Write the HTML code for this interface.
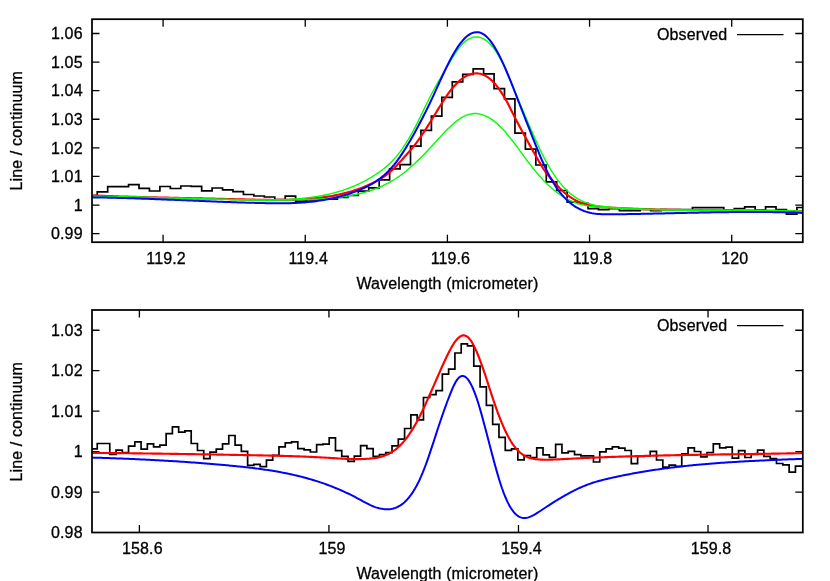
<!DOCTYPE html>
<html><head><meta charset="utf-8"><title>plot</title>
<style>
html,body{margin:0;padding:0;background:#fff;}
svg{display:block;will-change:transform;}
text{font-family:"Liberation Sans", sans-serif;font-size:16px;fill:#000;stroke:#000;stroke-width:0.3px;letter-spacing:0.13px;}
</style></head><body>
<svg width="830" height="581" viewBox="0 0 830 581">
<rect x="0" y="0" width="830" height="581" fill="#fff"/>

<path d="M163.08,242.2v-7.5M163.08,19.2v7.5" stroke="#000" stroke-width="1.3" fill="none"/>
<path d="M305.24,242.2v-7.5M305.24,19.2v7.5" stroke="#000" stroke-width="1.3" fill="none"/>
<path d="M447.40,242.2v-7.5M447.40,19.2v7.5" stroke="#000" stroke-width="1.3" fill="none"/>
<path d="M589.56,242.2v-7.5M589.56,19.2v7.5" stroke="#000" stroke-width="1.3" fill="none"/>
<path d="M731.72,242.2v-7.5M731.72,19.2v7.5" stroke="#000" stroke-width="1.3" fill="none"/>
<path d="M92,233.62h7.5M802.8,233.62h-7.5" stroke="#000" stroke-width="1.3" fill="none"/>
<path d="M92,205.03h7.5M802.8,205.03h-7.5" stroke="#000" stroke-width="1.3" fill="none"/>
<path d="M92,176.44h7.5M802.8,176.44h-7.5" stroke="#000" stroke-width="1.3" fill="none"/>
<path d="M92,147.85h7.5M802.8,147.85h-7.5" stroke="#000" stroke-width="1.3" fill="none"/>
<path d="M92,119.26h7.5M802.8,119.26h-7.5" stroke="#000" stroke-width="1.3" fill="none"/>
<path d="M92,90.67h7.5M802.8,90.67h-7.5" stroke="#000" stroke-width="1.3" fill="none"/>
<path d="M92,62.08h7.5M802.8,62.08h-7.5" stroke="#000" stroke-width="1.3" fill="none"/>
<path d="M92,33.49h7.5M802.8,33.49h-7.5" stroke="#000" stroke-width="1.3" fill="none"/>
<text x="166.08" y="263.70" text-anchor="middle">119.2</text>
<text x="308.24" y="263.70" text-anchor="middle">119.4</text>
<text x="450.40" y="263.70" text-anchor="middle">119.6</text>
<text x="592.56" y="263.70" text-anchor="middle">119.8</text>
<text x="734.72" y="263.70" text-anchor="middle">120</text>
<text  x="82.70" y="239.32" text-anchor="end">0.99</text>
<text  x="82.70" y="210.73" text-anchor="end">1</text>
<text  x="82.70" y="182.14" text-anchor="end">1.01</text>
<text  x="82.70" y="153.55" text-anchor="end">1.02</text>
<text  x="82.70" y="124.96" text-anchor="end">1.03</text>
<text  x="82.70" y="96.37" text-anchor="end">1.04</text>
<text  x="82.70" y="67.78" text-anchor="end">1.05</text>
<text  x="82.70" y="39.19" text-anchor="end">1.06</text>
<text x="447.40" y="288.5" text-anchor="middle">Wavelength (micrometer)</text>
<text transform="translate(22,130.8) rotate(-90)" text-anchor="middle">Line / continuum</text>
<text x="727.4" y="40.2" text-anchor="end">Observed</text>
<path d="M737,34.6H783.5" stroke="#000" stroke-width="1.3" fill="none"/>
<clipPath id="c19.2"><rect x="92" y="19.2" width="710.8" height="223.0"/></clipPath>
<g clip-path="url(#c19.2)">
<path d="M92,195.60H97.24V191.80H107.68V186.70H118.12V186.70H128.57V184.70H139.01V188.40H149.45V191.00H159.89V186.50H170.34V188.50H180.78V186.00H191.22V186.40H201.67V190.80H212.11V188.00H222.55V189.90H232.99V191.60H243.44V194.50H253.88V196.00H264.32V197.00H274.76V199.50H285.20V196.20H295.65V201.20H306.09V199.80H316.53V199.00H326.98V199.10H337.42V197.50H347.86V195.50H358.30V191.10H368.75V187.80H379.19V179.80H389.63V168.80H400.07V164.70H410.52V146.10H420.96V130.30H431.40V116.10H441.84V97.30H452.29V81.90H462.73V74.30H473.17V68.80H483.61V73.90H494.06V88.70H504.50V98.80H514.94V133.10H525.38V149.10H535.83V165.00H546.27V181.90H556.71V190.50H567.15V202.10H577.60V203.40H588.04V208.70H598.48V209.60H608.92V208.70H619.37V210.70H629.81V210.70H640.25V209.30H650.69V210.60H661.14V209.50H671.58V209.50H682.02V209.50H692.46V207.70H702.91V207.60H713.35V207.60H723.79V209.80H734.23V208.50H744.68V206.90H755.12V210.00H765.56V206.80H776.00V209.50H786.45V214.10H796.89V207.50H804.8" stroke="#000" stroke-width="1.7" fill="none" stroke-linejoin="miter"/>
<path d="M88.00,195.28 L90.00,195.37 L92.00,195.45 L94.00,195.53 L96.00,195.61 L98.00,195.69 L100.00,195.76 L102.00,195.84 L104.00,195.91 L106.00,195.98 L108.00,196.05 L110.00,196.12 L112.00,196.19 L114.00,196.26 L116.00,196.32 L118.00,196.39 L120.00,196.45 L122.00,196.51 L124.00,196.57 L126.00,196.63 L128.00,196.69 L130.00,196.75 L132.00,196.80 L134.00,196.86 L136.00,196.91 L138.00,196.97 L140.00,197.02 L142.00,197.07 L144.00,197.12 L146.00,197.17 L148.00,197.22 L150.00,197.27 L152.00,197.32 L154.00,197.37 L156.00,197.41 L158.00,197.46 L160.00,197.51 L162.00,197.55 L164.00,197.60 L166.00,197.64 L168.00,197.69 L170.00,197.73 L172.00,197.77 L174.00,197.82 L176.00,197.86 L178.00,197.90 L180.00,197.95 L182.00,197.99 L184.00,198.03 L186.00,198.07 L188.00,198.12 L190.00,198.16 L192.00,198.20 L194.00,198.25 L196.00,198.29 L198.00,198.33 L200.00,198.37 L202.00,198.42 L204.00,198.46 L206.00,198.51 L208.00,198.55 L210.00,198.60 L212.00,198.64 L214.00,198.69 L216.00,198.73 L218.00,198.78 L220.00,198.83 L222.00,198.87 L224.00,198.92 L226.00,198.97 L228.00,199.02 L230.00,199.07 L232.00,199.12 L234.00,199.17 L236.00,199.23 L238.00,199.28 L240.00,199.33 L242.00,199.39 L244.00,199.44 L246.00,199.49 L248.00,199.54 L250.00,199.59 L252.00,199.64 L254.00,199.69 L256.00,199.73 L258.00,199.77 L260.00,199.81 L262.00,199.84 L264.00,199.87 L266.00,199.90 L268.00,199.92 L270.00,199.93 L272.00,199.95 L274.00,199.95 L276.00,199.95 L278.00,199.94 L280.00,199.93 L282.00,199.91 L284.00,199.88 L286.00,199.84 L288.00,199.80 L290.00,199.75 L292.00,199.69 L294.00,199.62 L296.00,199.54 L298.00,199.45 L300.00,199.35 L302.00,199.24 L304.00,199.12 L306.00,198.99 L308.00,198.84 L310.00,198.69 L312.00,198.52 L314.00,198.34 L316.00,198.14 L318.00,197.93 L320.00,197.70 L322.00,197.45 L324.00,197.19 L326.00,196.91 L328.00,196.60 L330.00,196.28 L332.00,195.94 L334.00,195.57 L336.00,195.18 L338.00,194.77 L340.00,194.34 L342.00,193.88 L344.00,193.39 L346.00,192.87 L348.00,192.33 L350.00,191.76 L352.00,191.16 L354.00,190.53 L356.00,189.87 L358.00,189.18 L360.00,188.46 L362.00,187.70 L364.00,186.91 L366.00,186.08 L368.00,185.22 L370.00,184.32 L372.00,183.38 L374.00,182.40 L376.00,181.38 L378.00,180.31 L380.00,179.16 L382.00,177.93 L384.00,176.60 L386.00,175.17 L388.00,173.62 L390.00,171.94 L392.00,170.12 L394.00,168.19 L396.00,166.15 L398.00,164.04 L400.00,161.88 L402.00,159.69 L404.00,157.50 L406.00,155.28 L408.00,153.04 L410.00,150.74 L412.00,148.36 L414.00,145.90 L416.00,143.33 L418.00,140.64 L420.00,137.82 L422.00,134.90 L424.00,131.89 L426.00,128.80 L428.00,125.65 L430.00,122.45 L432.00,119.21 L434.00,115.95 L436.00,112.69 L438.00,109.43 L440.00,106.19 L442.00,102.99 L444.00,99.86 L446.00,96.83 L448.00,93.94 L450.00,91.22 L452.00,88.68 L454.00,86.32 L456.00,84.15 L458.00,82.16 L460.00,80.36 L462.00,78.76 L464.00,77.36 L466.00,76.16 L468.00,75.17 L470.00,74.39 L472.00,73.82 L474.00,73.47 L476.00,73.34 L478.00,73.44 L480.00,73.77 L482.00,74.33 L484.00,75.13 L486.00,76.17 L488.00,77.45 L490.00,78.98 L492.00,80.76 L494.00,82.79 L496.00,85.06 L498.00,87.58 L500.00,90.35 L502.00,93.36 L504.00,96.62 L506.00,100.11 L508.00,103.85 L510.00,107.82 L512.00,111.83 L514.00,115.76 L516.00,119.64 L518.00,123.46 L520.00,127.24 L522.00,130.99 L524.00,134.70 L526.00,138.37 L528.00,142.00 L530.00,145.61 L532.00,149.17 L534.00,152.71 L536.00,156.21 L538.00,159.68 L540.00,163.11 L542.00,166.52 L544.00,169.74 L546.00,172.62 L548.00,175.16 L550.00,177.46 L552.00,179.72 L554.00,181.97 L556.00,184.19 L558.00,186.34 L560.00,188.41 L562.00,190.37 L564.00,192.20 L566.00,193.89 L568.00,195.44 L570.00,196.87 L572.00,198.17 L574.00,199.35 L576.00,200.43 L578.00,201.40 L580.00,202.27 L582.00,203.05 L584.00,203.74 L586.00,204.35 L588.00,204.89 L590.00,205.36 L592.00,205.76 L594.00,206.11 L596.00,206.41 L598.00,206.67 L600.00,206.89 L602.00,207.07 L604.00,207.23 L606.00,207.37 L608.00,207.49 L610.00,207.61 L612.00,207.72 L614.00,207.83 L616.00,207.94 L618.00,208.04 L620.00,208.14 L622.00,208.24 L624.00,208.33 L626.00,208.42 L628.00,208.51 L630.00,208.59 L632.00,208.67 L634.00,208.75 L636.00,208.83 L638.00,208.90 L640.00,208.97 L642.00,209.04 L644.00,209.11 L646.00,209.17 L648.00,209.23 L650.00,209.29 L652.00,209.35 L654.00,209.40 L656.00,209.45 L658.00,209.50 L660.00,209.55 L662.00,209.60 L664.00,209.64 L666.00,209.68 L668.00,209.72 L670.00,209.76 L672.00,209.80 L674.00,209.84 L676.00,209.87 L678.00,209.90 L680.00,209.93 L682.00,209.96 L684.00,209.99 L686.00,210.02 L688.00,210.04 L690.00,210.07 L692.00,210.09 L694.00,210.11 L696.00,210.13 L698.00,210.15 L700.00,210.17 L702.00,210.19 L704.00,210.21 L706.00,210.22 L708.00,210.24 L710.00,210.26 L712.00,210.27 L714.00,210.29 L716.00,210.30 L718.00,210.31 L720.00,210.33 L722.00,210.34 L724.00,210.35 L726.00,210.37 L728.00,210.38 L730.00,210.39 L732.00,210.40 L734.00,210.42 L736.00,210.43 L738.00,210.44 L740.00,210.46 L742.00,210.47 L744.00,210.48 L746.00,210.50 L748.00,210.51 L750.00,210.53 L752.00,210.54 L754.00,210.56 L756.00,210.58 L758.00,210.60 L760.00,210.62 L762.00,210.64 L764.00,210.66 L766.00,210.68 L768.00,210.70 L770.00,210.73 L772.00,210.75 L774.00,210.78 L776.00,210.81 L778.00,210.83 L780.00,210.87 L782.00,210.90 L784.00,210.93 L786.00,210.97 L788.00,211.00 L790.00,211.04 L792.00,211.08 L794.00,211.12 L796.00,211.17 L798.00,211.21 L800.00,211.26 L802.00,211.31 L804.00,211.36 L806.00,211.41 L808.00,211.47" stroke="#ff0000" stroke-width="2.15" fill="none" stroke-linejoin="round" stroke-linecap="round"/>
<path d="M88.00,196.21 L90.00,196.26 L92.00,196.30 L94.00,196.35 L96.00,196.39 L98.00,196.44 L100.00,196.48 L102.00,196.52 L104.00,196.57 L106.00,196.61 L108.00,196.66 L110.00,196.70 L112.00,196.75 L114.00,196.79 L116.00,196.83 L118.00,196.88 L120.00,196.92 L122.00,196.97 L124.00,197.01 L126.00,197.06 L128.00,197.10 L130.00,197.14 L132.00,197.19 L134.00,197.23 L136.00,197.28 L138.00,197.32 L140.00,197.36 L142.00,197.41 L144.00,197.45 L146.00,197.50 L148.00,197.54 L150.00,197.58 L152.00,197.63 L154.00,197.67 L156.00,197.72 L158.00,197.76 L160.00,197.80 L162.00,197.85 L164.00,197.89 L166.00,197.94 L168.00,197.98 L170.00,198.03 L172.00,198.07 L174.00,198.12 L176.00,198.16 L178.00,198.20 L180.00,198.25 L182.00,198.29 L184.00,198.34 L186.00,198.38 L188.00,198.43 L190.00,198.47 L192.00,198.52 L194.00,198.56 L196.00,198.61 L198.00,198.65 L200.00,198.70 L202.00,198.74 L204.00,198.79 L206.00,198.84 L208.00,198.88 L210.00,198.93 L212.00,198.97 L214.00,199.02 L216.00,199.07 L218.00,199.11 L220.00,199.16 L222.00,199.20 L224.00,199.25 L226.00,199.30 L228.00,199.34 L230.00,199.39 L232.00,199.44 L234.00,199.49 L236.00,199.53 L238.00,199.58 L240.00,199.63 L242.00,199.67 L244.00,199.72 L246.00,199.76 L248.00,199.80 L250.00,199.84 L252.00,199.87 L254.00,199.90 L256.00,199.93 L258.00,199.95 L260.00,199.97 L262.00,199.98 L264.00,199.98 L266.00,199.98 L268.00,199.97 L270.00,199.96 L272.00,199.94 L274.00,199.91 L276.00,199.87 L278.00,199.82 L280.00,199.76 L282.00,199.70 L284.00,199.62 L286.00,199.53 L288.00,199.44 L290.00,199.33 L292.00,199.20 L294.00,199.07 L296.00,198.92 L298.00,198.76 L300.00,198.59 L302.00,198.40 L304.00,198.20 L306.00,197.98 L308.00,197.74 L310.00,197.49 L312.00,197.23 L314.00,196.94 L316.00,196.64 L318.00,196.32 L320.00,195.97 L322.00,195.60 L324.00,195.22 L326.00,194.80 L328.00,194.37 L330.00,193.91 L332.00,193.42 L334.00,192.90 L336.00,192.36 L338.00,191.79 L340.00,191.19 L342.00,190.56 L344.00,189.90 L346.00,189.20 L348.00,188.47 L350.00,187.71 L352.00,186.91 L354.00,186.08 L356.00,185.21 L358.00,184.30 L360.00,183.35 L362.00,182.37 L364.00,181.34 L366.00,180.27 L368.00,179.16 L370.00,178.01 L372.00,176.81 L374.00,175.57 L376.00,174.28 L378.00,172.95 L380.00,171.54 L382.00,170.07 L384.00,168.51 L386.00,166.86 L388.00,165.11 L390.00,163.24 L392.00,161.24 L394.00,159.11 L396.00,156.84 L398.00,154.41 L400.00,151.83 L402.00,149.11 L404.00,146.22 L406.00,143.19 L408.00,139.99 L410.00,136.64 L412.00,133.13 L414.00,129.45 L416.00,125.62 L418.00,121.62 L420.00,117.50 L422.00,113.33 L424.00,109.14 L426.00,104.99 L428.00,100.94 L430.00,97.01 L432.00,93.19 L434.00,89.46 L436.00,85.82 L438.00,82.26 L440.00,78.75 L442.00,75.30 L444.00,71.88 L446.00,68.50 L448.00,65.13 L450.00,61.78 L452.00,58.50 L454.00,55.32 L456.00,52.29 L458.00,49.46 L460.00,46.86 L462.00,44.54 L464.00,42.53 L466.00,40.83 L468.00,39.43 L470.00,38.34 L472.00,37.55 L474.00,37.06 L476.00,36.87 L478.00,36.98 L480.00,37.39 L482.00,38.10 L484.00,39.11 L486.00,40.42 L488.00,42.03 L490.00,43.95 L492.00,46.16 L494.00,48.69 L496.00,51.51 L498.00,54.65 L500.00,58.09 L502.00,61.83 L504.00,65.88 L506.00,70.20 L508.00,74.74 L510.00,79.45 L512.00,84.26 L514.00,89.14 L516.00,94.02 L518.00,98.86 L520.00,103.65 L522.00,108.39 L524.00,113.10 L526.00,117.79 L528.00,122.47 L530.00,127.14 L532.00,131.77 L534.00,136.36 L536.00,140.86 L538.00,145.26 L540.00,149.52 L542.00,153.62 L544.00,157.56 L546.00,161.32 L548.00,164.91 L550.00,168.33 L552.00,171.58 L554.00,174.66 L556.00,177.57 L558.00,180.31 L560.00,182.87 L562.00,185.27 L564.00,187.50 L566.00,189.56 L568.00,191.47 L570.00,193.22 L572.00,194.83 L574.00,196.30 L576.00,197.64 L578.00,198.85 L580.00,199.95 L582.00,200.94 L584.00,201.82 L586.00,202.61 L588.00,203.31 L590.00,203.93 L592.00,204.48 L594.00,204.95 L596.00,205.37 L598.00,205.73 L600.00,206.04 L602.00,206.31 L604.00,206.56 L606.00,206.77 L608.00,206.97 L610.00,207.15 L612.00,207.33 L614.00,207.50 L616.00,207.66 L618.00,207.82 L620.00,207.97 L622.00,208.12 L624.00,208.26 L626.00,208.39 L628.00,208.52 L630.00,208.64 L632.00,208.76 L634.00,208.87 L636.00,208.98 L638.00,209.08 L640.00,209.18 L642.00,209.27 L644.00,209.36 L646.00,209.44 L648.00,209.52 L650.00,209.59 L652.00,209.66 L654.00,209.72 L656.00,209.79 L658.00,209.84 L660.00,209.90 L662.00,209.95 L664.00,209.99 L666.00,210.03 L668.00,210.07 L670.00,210.11 L672.00,210.14 L674.00,210.17 L676.00,210.20 L678.00,210.22 L680.00,210.25 L682.00,210.27 L684.00,210.28 L686.00,210.30 L688.00,210.31 L690.00,210.32 L692.00,210.33 L694.00,210.34 L696.00,210.34 L698.00,210.35 L700.00,210.35 L702.00,210.35 L704.00,210.35 L706.00,210.35 L708.00,210.35 L710.00,210.34 L712.00,210.34 L714.00,210.34 L716.00,210.33 L718.00,210.33 L720.00,210.32 L722.00,210.32 L724.00,210.31 L726.00,210.31 L728.00,210.30 L730.00,210.30 L732.00,210.29 L734.00,210.29 L736.00,210.29 L738.00,210.29 L740.00,210.28 L742.00,210.29 L744.00,210.29 L746.00,210.29 L748.00,210.29 L750.00,210.30 L752.00,210.31 L754.00,210.32 L756.00,210.33 L758.00,210.34 L760.00,210.36 L762.00,210.38 L764.00,210.40 L766.00,210.42 L768.00,210.44 L770.00,210.47 L772.00,210.50 L774.00,210.54 L776.00,210.57 L778.00,210.61 L780.00,210.66 L782.00,210.71 L784.00,210.76 L786.00,210.81 L788.00,210.87 L790.00,210.93 L792.00,211.00 L794.00,211.07 L796.00,211.14 L798.00,211.22 L800.00,211.31 L802.00,211.40 L804.00,211.49 L806.00,211.58 L808.00,211.68" stroke="#00ff00" stroke-width="1.4" fill="none" stroke-linejoin="round" stroke-linecap="round"/>
<path d="M88.00,196.39 L90.00,196.39 L92.00,196.39 L94.00,196.39 L96.00,196.40 L98.00,196.40 L100.00,196.41 L102.00,196.42 L104.00,196.44 L106.00,196.46 L108.00,196.48 L110.00,196.50 L112.00,196.52 L114.00,196.55 L116.00,196.58 L118.00,196.61 L120.00,196.64 L122.00,196.68 L124.00,196.71 L126.00,196.75 L128.00,196.79 L130.00,196.83 L132.00,196.88 L134.00,196.92 L136.00,196.97 L138.00,197.02 L140.00,197.06 L142.00,197.12 L144.00,197.17 L146.00,197.22 L148.00,197.27 L150.00,197.33 L152.00,197.38 L154.00,197.44 L156.00,197.50 L158.00,197.56 L160.00,197.62 L162.00,197.68 L164.00,197.74 L166.00,197.80 L168.00,197.86 L170.00,197.92 L172.00,197.98 L174.00,198.05 L176.00,198.11 L178.00,198.17 L180.00,198.23 L182.00,198.30 L184.00,198.36 L186.00,198.42 L188.00,198.48 L190.00,198.55 L192.00,198.61 L194.00,198.67 L196.00,198.73 L198.00,198.79 L200.00,198.85 L202.00,198.91 L204.00,198.97 L206.00,199.03 L208.00,199.09 L210.00,199.14 L212.00,199.20 L214.00,199.25 L216.00,199.31 L218.00,199.36 L220.00,199.41 L222.00,199.46 L224.00,199.51 L226.00,199.55 L228.00,199.60 L230.00,199.64 L232.00,199.69 L234.00,199.73 L236.00,199.77 L238.00,199.80 L240.00,199.84 L242.00,199.87 L244.00,199.90 L246.00,199.93 L248.00,199.96 L250.00,199.99 L252.00,200.01 L254.00,200.03 L256.00,200.05 L258.00,200.07 L260.00,200.08 L262.00,200.09 L264.00,200.10 L266.00,200.10 L268.00,200.11 L270.00,200.11 L272.00,200.11 L274.00,200.10 L276.00,200.09 L278.00,200.08 L280.00,200.07 L282.00,200.05 L284.00,200.03 L286.00,200.00 L288.00,199.98 L290.00,199.94 L292.00,199.91 L294.00,199.87 L296.00,199.83 L298.00,199.78 L300.00,199.74 L302.00,199.68 L304.00,199.63 L306.00,199.56 L308.00,199.50 L310.00,199.43 L312.00,199.36 L314.00,199.27 L316.00,199.18 L318.00,199.09 L320.00,198.98 L322.00,198.86 L324.00,198.74 L326.00,198.60 L328.00,198.44 L330.00,198.28 L332.00,198.10 L334.00,197.90 L336.00,197.69 L338.00,197.46 L340.00,197.21 L342.00,196.94 L344.00,196.65 L346.00,196.34 L348.00,196.01 L350.00,195.66 L352.00,195.28 L354.00,194.88 L356.00,194.45 L358.00,194.00 L360.00,193.52 L362.00,193.01 L364.00,192.47 L366.00,191.90 L368.00,191.30 L370.00,190.67 L372.00,190.00 L374.00,189.30 L376.00,188.57 L378.00,187.80 L380.00,186.98 L382.00,186.12 L384.00,185.20 L386.00,184.23 L388.00,183.21 L390.00,182.12 L392.00,180.97 L394.00,179.75 L396.00,178.47 L398.00,177.11 L400.00,175.70 L402.00,174.22 L404.00,172.68 L406.00,171.08 L408.00,169.43 L410.00,167.72 L412.00,165.96 L414.00,164.15 L416.00,162.29 L418.00,160.38 L420.00,158.43 L422.00,156.44 L424.00,154.41 L426.00,152.34 L428.00,150.24 L430.00,148.10 L432.00,145.93 L434.00,143.74 L436.00,141.54 L438.00,139.34 L440.00,137.16 L442.00,135.01 L444.00,132.89 L446.00,130.82 L448.00,128.81 L450.00,126.88 L452.00,125.03 L454.00,123.27 L456.00,121.63 L458.00,120.10 L460.00,118.71 L462.00,117.46 L464.00,116.36 L466.00,115.43 L468.00,114.68 L470.00,114.12 L472.00,113.74 L474.00,113.56 L476.00,113.56 L478.00,113.73 L480.00,114.09 L482.00,114.61 L484.00,115.30 L486.00,116.15 L488.00,117.17 L490.00,118.34 L492.00,119.66 L494.00,121.12 L496.00,122.73 L498.00,124.49 L500.00,126.37 L502.00,128.39 L504.00,130.54 L506.00,132.81 L508.00,135.18 L510.00,137.65 L512.00,140.20 L514.00,142.82 L516.00,145.49 L518.00,148.19 L520.00,150.91 L522.00,153.65 L524.00,156.37 L526.00,159.07 L528.00,161.75 L530.00,164.38 L532.00,166.96 L534.00,169.48 L536.00,171.93 L538.00,174.30 L540.00,176.58 L542.00,178.78 L544.00,180.89 L546.00,182.90 L548.00,184.83 L550.00,186.67 L552.00,188.43 L554.00,190.09 L556.00,191.67 L558.00,193.17 L560.00,194.57 L562.00,195.89 L564.00,197.13 L566.00,198.28 L568.00,199.35 L570.00,200.33 L572.00,201.23 L574.00,202.05 L576.00,202.79 L578.00,203.46 L580.00,204.07 L582.00,204.61 L584.00,205.09 L586.00,205.52 L588.00,205.90 L590.00,206.23 L592.00,206.51 L594.00,206.76 L596.00,206.98 L598.00,207.16 L600.00,207.32 L602.00,207.46 L604.00,207.58 L606.00,207.68 L608.00,207.78 L610.00,207.87 L612.00,207.96 L614.00,208.04 L616.00,208.13 L618.00,208.21 L620.00,208.29 L622.00,208.37 L624.00,208.44 L626.00,208.51 L628.00,208.58 L630.00,208.65 L632.00,208.72 L634.00,208.78 L636.00,208.85 L638.00,208.91 L640.00,208.97 L642.00,209.02 L644.00,209.08 L646.00,209.13 L648.00,209.19 L650.00,209.24 L652.00,209.29 L654.00,209.33 L656.00,209.38 L658.00,209.42 L660.00,209.47 L662.00,209.51 L664.00,209.55 L666.00,209.59 L668.00,209.63 L670.00,209.66 L672.00,209.70 L674.00,209.73 L676.00,209.77 L678.00,209.80 L680.00,209.83 L682.00,209.86 L684.00,209.89 L686.00,209.92 L688.00,209.95 L690.00,209.97 L692.00,210.00 L694.00,210.02 L696.00,210.05 L698.00,210.07 L700.00,210.10 L702.00,210.12 L704.00,210.14 L706.00,210.16 L708.00,210.18 L710.00,210.20 L712.00,210.22 L714.00,210.24 L716.00,210.26 L718.00,210.28 L720.00,210.30 L722.00,210.32 L724.00,210.33 L726.00,210.35 L728.00,210.37 L730.00,210.39 L732.00,210.41 L734.00,210.42 L736.00,210.44 L738.00,210.46 L740.00,210.48 L742.00,210.49 L744.00,210.51 L746.00,210.53 L748.00,210.55 L750.00,210.57 L752.00,210.59 L754.00,210.61 L756.00,210.63 L758.00,210.65 L760.00,210.67 L762.00,210.69 L764.00,210.72 L766.00,210.74 L768.00,210.76 L770.00,210.79 L772.00,210.81 L774.00,210.84 L776.00,210.86 L778.00,210.89 L780.00,210.92 L782.00,210.95 L784.00,210.98 L786.00,211.01 L788.00,211.04 L790.00,211.08 L792.00,211.11 L794.00,211.15 L796.00,211.18 L798.00,211.22 L800.00,211.26 L802.00,211.30 L804.00,211.34 L806.00,211.38 L808.00,211.43" stroke="#00ff00" stroke-width="1.4" fill="none" stroke-linejoin="round" stroke-linecap="round"/>
<path d="M88.00,197.30 L90.00,197.33 L92.00,197.36 L94.00,197.38 L96.00,197.41 L98.00,197.44 L100.00,197.48 L102.00,197.51 L104.00,197.55 L106.00,197.59 L108.00,197.63 L110.00,197.68 L112.00,197.73 L114.00,197.77 L116.00,197.82 L118.00,197.88 L120.00,197.93 L122.00,197.99 L124.00,198.04 L126.00,198.10 L128.00,198.16 L130.00,198.23 L132.00,198.29 L134.00,198.35 L136.00,198.42 L138.00,198.49 L140.00,198.56 L142.00,198.63 L144.00,198.70 L146.00,198.77 L148.00,198.85 L150.00,198.92 L152.00,199.00 L154.00,199.07 L156.00,199.15 L158.00,199.23 L160.00,199.31 L162.00,199.38 L164.00,199.46 L166.00,199.55 L168.00,199.63 L170.00,199.71 L172.00,199.79 L174.00,199.87 L176.00,199.95 L178.00,200.04 L180.00,200.12 L182.00,200.20 L184.00,200.29 L186.00,200.37 L188.00,200.45 L190.00,200.54 L192.00,200.62 L194.00,200.70 L196.00,200.79 L198.00,200.87 L200.00,200.95 L202.00,201.03 L204.00,201.11 L206.00,201.19 L208.00,201.27 L210.00,201.35 L212.00,201.43 L214.00,201.51 L216.00,201.59 L218.00,201.67 L220.00,201.74 L222.00,201.82 L224.00,201.89 L226.00,201.96 L228.00,202.04 L230.00,202.11 L232.00,202.18 L234.00,202.24 L236.00,202.31 L238.00,202.38 L240.00,202.44 L242.00,202.50 L244.00,202.57 L246.00,202.63 L248.00,202.68 L250.00,202.74 L252.00,202.80 L254.00,202.85 L256.00,202.90 L258.00,202.95 L260.00,203.00 L262.00,203.04 L264.00,203.09 L266.00,203.13 L268.00,203.16 L270.00,203.19 L272.00,203.22 L274.00,203.24 L276.00,203.26 L278.00,203.27 L280.00,203.27 L282.00,203.26 L284.00,203.24 L286.00,203.21 L288.00,203.18 L290.00,203.13 L292.00,203.07 L294.00,202.99 L296.00,202.91 L298.00,202.80 L300.00,202.69 L302.00,202.56 L304.00,202.41 L306.00,202.25 L308.00,202.06 L310.00,201.86 L312.00,201.65 L314.00,201.41 L316.00,201.15 L318.00,200.88 L320.00,200.58 L322.00,200.27 L324.00,199.93 L326.00,199.57 L328.00,199.19 L330.00,198.79 L332.00,198.37 L334.00,197.92 L336.00,197.45 L338.00,196.96 L340.00,196.44 L342.00,195.90 L344.00,195.34 L346.00,194.75 L348.00,194.13 L350.00,193.49 L352.00,192.82 L354.00,192.12 L356.00,191.38 L358.00,190.61 L360.00,189.80 L362.00,188.93 L364.00,188.02 L366.00,187.06 L368.00,186.04 L370.00,184.95 L372.00,183.81 L374.00,182.59 L376.00,181.29 L378.00,179.91 L380.00,178.44 L382.00,176.87 L384.00,175.19 L386.00,173.38 L388.00,171.46 L390.00,169.40 L392.00,167.19 L394.00,164.83 L396.00,162.32 L398.00,159.65 L400.00,156.84 L402.00,153.89 L404.00,150.82 L406.00,147.63 L408.00,144.33 L410.00,140.94 L412.00,137.45 L414.00,133.89 L416.00,130.26 L418.00,126.56 L420.00,122.80 L422.00,118.97 L424.00,115.07 L426.00,111.08 L428.00,107.02 L430.00,102.86 L432.00,98.62 L434.00,94.31 L436.00,89.93 L438.00,85.53 L440.00,81.13 L442.00,76.76 L444.00,72.47 L446.00,68.27 L448.00,64.20 L450.00,60.29 L452.00,56.57 L454.00,53.04 L456.00,49.72 L458.00,46.65 L460.00,43.83 L462.00,41.29 L464.00,39.03 L466.00,37.08 L468.00,35.43 L470.00,34.10 L472.00,33.11 L474.00,32.45 L476.00,32.14 L478.00,32.19 L480.00,32.60 L482.00,33.40 L484.00,34.58 L486.00,36.15 L488.00,38.12 L490.00,40.45 L492.00,43.13 L494.00,46.14 L496.00,49.46 L498.00,53.07 L500.00,56.95 L502.00,61.08 L504.00,65.45 L506.00,70.02 L508.00,74.76 L510.00,79.66 L512.00,84.66 L514.00,89.75 L516.00,94.90 L518.00,100.07 L520.00,105.24 L522.00,110.38 L524.00,115.50 L526.00,120.59 L528.00,125.66 L530.00,130.72 L532.00,135.76 L534.00,140.80 L536.00,145.81 L538.00,150.74 L540.00,155.58 L542.00,160.27 L544.00,164.78 L546.00,169.08 L548.00,173.14 L550.00,176.95 L552.00,180.50 L554.00,183.81 L556.00,186.88 L558.00,189.74 L560.00,192.38 L562.00,194.82 L564.00,197.07 L566.00,199.14 L568.00,201.04 L570.00,202.78 L572.00,204.36 L574.00,205.79 L576.00,207.08 L578.00,208.23 L580.00,209.26 L582.00,210.16 L584.00,210.95 L586.00,211.64 L588.00,212.23 L590.00,212.73 L592.00,213.14 L594.00,213.48 L596.00,213.75 L598.00,213.96 L600.00,214.11 L602.00,214.22 L604.00,214.29 L606.00,214.32 L608.00,214.33 L610.00,214.33 L612.00,214.31 L614.00,214.29 L616.00,214.27 L618.00,214.25 L620.00,214.22 L622.00,214.20 L624.00,214.17 L626.00,214.14 L628.00,214.11 L630.00,214.08 L632.00,214.05 L634.00,214.01 L636.00,213.98 L638.00,213.94 L640.00,213.90 L642.00,213.87 L644.00,213.83 L646.00,213.79 L648.00,213.75 L650.00,213.70 L652.00,213.66 L654.00,213.62 L656.00,213.58 L658.00,213.53 L660.00,213.49 L662.00,213.44 L664.00,213.40 L666.00,213.35 L668.00,213.31 L670.00,213.26 L672.00,213.21 L674.00,213.17 L676.00,213.12 L678.00,213.08 L680.00,213.03 L682.00,212.99 L684.00,212.94 L686.00,212.90 L688.00,212.85 L690.00,212.81 L692.00,212.76 L694.00,212.72 L696.00,212.68 L698.00,212.64 L700.00,212.60 L702.00,212.56 L704.00,212.52 L706.00,212.48 L708.00,212.44 L710.00,212.41 L712.00,212.37 L714.00,212.34 L716.00,212.30 L718.00,212.27 L720.00,212.24 L722.00,212.21 L724.00,212.19 L726.00,212.16 L728.00,212.14 L730.00,212.11 L732.00,212.09 L734.00,212.07 L736.00,212.06 L738.00,212.04 L740.00,212.03 L742.00,212.01 L744.00,212.00 L746.00,212.00 L748.00,211.99 L750.00,211.99 L752.00,211.99 L754.00,211.99 L756.00,211.99 L758.00,212.00 L760.00,212.01 L762.00,212.02 L764.00,212.03 L766.00,212.05 L768.00,212.07 L770.00,212.09 L772.00,212.12 L774.00,212.15 L776.00,212.18 L778.00,212.21 L780.00,212.25 L782.00,212.29 L784.00,212.33 L786.00,212.38 L788.00,212.43 L790.00,212.48 L792.00,212.54 L794.00,212.60 L796.00,212.67 L798.00,212.73 L800.00,212.81 L802.00,212.88 L804.00,212.96 L806.00,213.04 L808.00,213.12" stroke="#0000ff" stroke-width="2.0" fill="none" stroke-linejoin="round" stroke-linecap="round"/>
</g>
<rect x="92" y="19.2" width="710.8" height="223.0" fill="none" stroke="#000" stroke-width="1.75"/>
<path d="M139.39,532.5v-7.5M139.39,310v7.5" stroke="#000" stroke-width="1.3" fill="none"/>
<path d="M328.93,532.5v-7.5M328.93,310v7.5" stroke="#000" stroke-width="1.3" fill="none"/>
<path d="M518.48,532.5v-7.5M518.48,310v7.5" stroke="#000" stroke-width="1.3" fill="none"/>
<path d="M708.03,532.5v-7.5M708.03,310v7.5" stroke="#000" stroke-width="1.3" fill="none"/>
<path d="M92,492.05h7.5M802.8,492.05h-7.5" stroke="#000" stroke-width="1.3" fill="none"/>
<path d="M92,451.59h7.5M802.8,451.59h-7.5" stroke="#000" stroke-width="1.3" fill="none"/>
<path d="M92,411.14h7.5M802.8,411.14h-7.5" stroke="#000" stroke-width="1.3" fill="none"/>
<path d="M92,370.68h7.5M802.8,370.68h-7.5" stroke="#000" stroke-width="1.3" fill="none"/>
<path d="M92,330.23h7.5M802.8,330.23h-7.5" stroke="#000" stroke-width="1.3" fill="none"/>
<text x="142.39" y="554.00" text-anchor="middle">158.6</text>
<text x="331.93" y="554.00" text-anchor="middle">159</text>
<text x="521.48" y="554.00" text-anchor="middle">159.4</text>
<text x="711.03" y="554.00" text-anchor="middle">159.8</text>
<text  x="82.70" y="538.20" text-anchor="end">0.98</text>
<text  x="82.70" y="497.75" text-anchor="end">0.99</text>
<text  x="82.70" y="457.29" text-anchor="end">1</text>
<text  x="82.70" y="416.84" text-anchor="end">1.01</text>
<text  x="82.70" y="376.38" text-anchor="end">1.02</text>
<text  x="82.70" y="335.93" text-anchor="end">1.03</text>
<text x="447.40" y="579" text-anchor="middle">Wavelength (micrometer)</text>
<text transform="translate(22,421.8) rotate(-90)" text-anchor="middle">Line / continuum</text>
<text x="727.4" y="331.2" text-anchor="end">Observed</text>
<path d="M737,325.6H783.5" stroke="#000" stroke-width="1.3" fill="none"/>
<clipPath id="c310"><rect x="92" y="310" width="710.8" height="222.5"/></clipPath>
<g clip-path="url(#c310)">
<path d="M92,448.80H97.25V443.50H103.51V443.50H109.77V454.40H116.03V450.10H122.29V452.50H128.55V446.10H134.81V441.90H141.07V449.20H147.34V443.90H153.60V446.80H159.86V445.20H166.13V433.60H172.39V426.90H178.66V432.20H184.92V430.90H191.19V443.50H197.46V450.50H203.73V458.70H209.99V452.10H216.26V449.20H222.53V443.90H228.80V435.50H235.07V445.20H241.34V451.40H247.62V465.40H253.89V464.40H260.16V466.70H266.44V460.10H272.71V455.40H278.98V446.80H285.26V442.80H291.54V441.90H297.81V448.70H304.09V449.80H310.37V452.00H316.64V444.70H322.92V444.10H329.20V437.90H335.48V450.70H341.76V456.40H348.04V461.30H354.32V456.20H360.61V445.70H366.89V448.60H373.17V456.40H379.46V454.70H385.74V452.70H392.03V445.80H398.31V439.10H404.60V428.50H410.88V414.90H417.17V419.90H423.46V397.50H429.75V394.70H436.04V390.60H442.33V374.10H448.62V369.20H454.91V353.00H461.20V343.80H467.49V345.80H473.78V366.20H480.08V386.90H486.37V405.40H492.66V424.30H498.96V437.40H505.25V450.40H511.55V448.90H517.85V459.80H524.14V455.50H530.44V457.50H536.74V447.80H543.04V454.90H549.34V457.40H555.64V444.30H561.94V452.90H568.24V451.40H574.54V454.70H580.84V455.80H587.14V455.80H593.45V462.00H599.75V451.80H606.06V448.90H612.36V446.90H618.67V448.10H624.97V450.50H631.28V463.70H637.59V456.40H643.89V455.80H650.20V451.40H656.51V460.00H662.82V467.10H669.13V465.10H675.44V466.40H681.75V453.80H688.07V447.80H694.38V451.50H700.69V456.80H707.00V452.50H713.32V443.90H719.63V447.80H725.95V447.20H732.26V458.20H738.58V450.70H744.90V457.50H751.22V454.50H757.53V450.20H763.85V456.40H770.17V458.70H776.49V463.50H782.81V464.80H789.13V472.10H795.45V466.10H801.78V466.10H804.8" stroke="#000" stroke-width="1.7" fill="none" stroke-linejoin="miter"/>
<path d="M88.00,452.88 L89.50,452.90 L91.00,452.91 L92.50,452.92 L94.00,452.93 L95.50,452.94 L97.00,452.96 L98.50,452.97 L100.00,452.98 L101.50,452.99 L103.00,453.01 L104.50,453.02 L106.00,453.03 L107.50,453.05 L109.00,453.06 L110.50,453.08 L112.00,453.09 L113.50,453.11 L115.00,453.12 L116.50,453.14 L118.00,453.15 L119.50,453.17 L121.00,453.18 L122.50,453.20 L124.00,453.22 L125.50,453.23 L127.00,453.25 L128.50,453.27 L130.00,453.28 L131.50,453.30 L133.00,453.32 L134.50,453.34 L136.00,453.36 L137.50,453.37 L139.00,453.39 L140.50,453.41 L142.00,453.43 L143.50,453.45 L145.00,453.47 L146.50,453.49 L148.00,453.51 L149.50,453.53 L151.00,453.55 L152.50,453.57 L154.00,453.59 L155.50,453.61 L157.00,453.63 L158.50,453.65 L160.00,453.67 L161.50,453.69 L163.00,453.71 L164.50,453.73 L166.00,453.75 L167.50,453.78 L169.00,453.80 L170.50,453.82 L172.00,453.84 L173.50,453.86 L175.00,453.89 L176.50,453.91 L178.00,453.93 L179.50,453.96 L181.00,453.98 L182.50,454.00 L184.00,454.03 L185.50,454.05 L187.00,454.07 L188.50,454.10 L190.00,454.12 L191.50,454.14 L193.00,454.17 L194.50,454.19 L196.00,454.22 L197.50,454.24 L199.00,454.27 L200.50,454.29 L202.00,454.32 L203.50,454.34 L205.00,454.37 L206.50,454.39 L208.00,454.42 L209.50,454.45 L211.00,454.47 L212.50,454.50 L214.00,454.52 L215.50,454.55 L217.00,454.58 L218.50,454.60 L220.00,454.63 L221.50,454.66 L223.00,454.68 L224.50,454.71 L226.00,454.74 L227.50,454.76 L229.00,454.79 L230.50,454.82 L232.00,454.85 L233.50,454.87 L235.00,454.90 L236.50,454.93 L238.00,454.96 L239.50,454.98 L241.00,455.01 L242.50,455.04 L244.00,455.07 L245.50,455.10 L247.00,455.13 L248.50,455.15 L250.00,455.18 L251.50,455.21 L253.00,455.24 L254.50,455.27 L256.00,455.30 L257.50,455.33 L259.00,455.36 L260.50,455.39 L262.00,455.42 L263.50,455.45 L265.00,455.48 L266.50,455.51 L268.00,455.55 L269.50,455.58 L271.00,455.61 L272.50,455.65 L274.00,455.68 L275.50,455.72 L277.00,455.75 L278.50,455.79 L280.00,455.83 L281.50,455.87 L283.00,455.91 L284.50,455.95 L286.00,455.99 L287.50,456.04 L289.00,456.08 L290.50,456.13 L292.00,456.18 L293.50,456.22 L295.00,456.27 L296.50,456.33 L298.00,456.38 L299.50,456.43 L301.00,456.49 L302.50,456.55 L304.00,456.60 L305.50,456.67 L307.00,456.73 L308.50,456.79 L310.00,456.86 L311.50,456.92 L313.00,456.99 L314.50,457.07 L316.00,457.14 L317.50,457.21 L319.00,457.29 L320.50,457.37 L322.00,457.45 L323.50,457.54 L325.00,457.62 L326.50,457.71 L328.00,457.80 L329.50,457.89 L331.00,457.99 L332.50,458.08 L334.00,458.18 L335.50,458.27 L337.00,458.36 L338.50,458.45 L340.00,458.54 L341.50,458.62 L343.00,458.70 L344.50,458.78 L346.00,458.84 L347.50,458.91 L349.00,458.96 L350.50,459.01 L352.00,459.05 L353.50,459.08 L355.00,459.10 L356.50,459.10 L358.00,459.10 L359.50,459.09 L361.00,459.06 L362.50,459.02 L364.00,458.96 L365.50,458.89 L367.00,458.80 L368.50,458.70 L370.00,458.58 L371.50,458.44 L373.00,458.28 L374.50,458.08 L376.00,457.85 L377.50,457.58 L379.00,457.26 L380.50,456.90 L382.00,456.48 L383.50,456.00 L385.00,455.46 L386.50,454.86 L388.00,454.18 L389.50,453.42 L391.00,452.59 L392.50,451.66 L394.00,450.65 L395.50,449.54 L397.00,448.33 L398.50,447.02 L400.00,445.60 L401.50,444.06 L403.00,442.41 L404.50,440.65 L406.00,438.77 L407.50,436.78 L409.00,434.67 L410.50,432.45 L412.00,430.12 L413.50,427.67 L415.00,425.11 L416.50,422.44 L418.00,419.65 L419.50,416.75 L421.00,413.74 L422.50,410.63 L424.00,407.45 L425.50,404.19 L427.00,400.89 L428.50,397.54 L430.00,394.17 L431.50,390.78 L433.00,387.37 L434.50,383.94 L436.00,380.49 L437.50,377.04 L439.00,373.60 L440.50,370.19 L442.00,366.81 L443.50,363.48 L445.00,360.20 L446.50,357.01 L448.00,353.92 L449.50,350.97 L451.00,348.19 L452.50,345.60 L454.00,343.24 L455.50,341.13 L457.00,339.30 L458.50,337.79 L460.00,336.61 L461.50,335.81 L463.00,335.40 L464.50,335.43 L466.00,335.91 L467.50,336.88 L469.00,338.31 L470.50,340.18 L472.00,342.46 L473.50,345.12 L475.00,348.11 L476.50,351.42 L478.00,355.00 L479.50,358.83 L481.00,362.87 L482.50,367.09 L484.00,371.46 L485.50,375.94 L487.00,380.50 L488.50,385.10 L490.00,389.71 L491.50,394.30 L493.00,398.83 L494.50,403.27 L496.00,407.61 L497.50,411.81 L499.00,415.86 L500.50,419.74 L502.00,423.42 L503.50,426.92 L505.00,430.22 L506.50,433.33 L508.00,436.25 L509.50,438.97 L511.00,441.50 L512.50,443.83 L514.00,445.95 L515.50,447.88 L517.00,449.61 L518.50,451.15 L520.00,452.52 L521.50,453.72 L523.00,454.77 L524.50,455.68 L526.00,456.46 L527.50,457.13 L529.00,457.68 L530.50,458.14 L532.00,458.52 L533.50,458.82 L535.00,459.06 L536.50,459.25 L538.00,459.40 L539.50,459.53 L541.00,459.62 L542.50,459.69 L544.00,459.73 L545.50,459.76 L547.00,459.76 L548.50,459.74 L550.00,459.71 L551.50,459.67 L553.00,459.61 L554.50,459.55 L556.00,459.48 L557.50,459.40 L559.00,459.32 L560.50,459.24 L562.00,459.16 L563.50,459.08 L565.00,459.01 L566.50,458.93 L568.00,458.85 L569.50,458.77 L571.00,458.70 L572.50,458.62 L574.00,458.55 L575.50,458.47 L577.00,458.40 L578.50,458.33 L580.00,458.26 L581.50,458.18 L583.00,458.11 L584.50,458.04 L586.00,457.98 L587.50,457.91 L589.00,457.84 L590.50,457.77 L592.00,457.71 L593.50,457.64 L595.00,457.58 L596.50,457.52 L598.00,457.45 L599.50,457.39 L601.00,457.33 L602.50,457.27 L604.00,457.21 L605.50,457.15 L607.00,457.10 L608.50,457.04 L610.00,456.98 L611.50,456.93 L613.00,456.88 L614.50,456.82 L616.00,456.77 L617.50,456.72 L619.00,456.67 L620.50,456.62 L622.00,456.57 L623.50,456.52 L625.00,456.47 L626.50,456.42 L628.00,456.38 L629.50,456.33 L631.00,456.28 L632.50,456.24 L634.00,456.20 L635.50,456.15 L637.00,456.11 L638.50,456.07 L640.00,456.03 L641.50,455.99 L643.00,455.95 L644.50,455.91 L646.00,455.87 L647.50,455.83 L649.00,455.79 L650.50,455.75 L652.00,455.72 L653.50,455.68 L655.00,455.64 L656.50,455.61 L658.00,455.57 L659.50,455.54 L661.00,455.51 L662.50,455.47 L664.00,455.44 L665.50,455.41 L667.00,455.38 L668.50,455.34 L670.00,455.31 L671.50,455.28 L673.00,455.25 L674.50,455.22 L676.00,455.19 L677.50,455.16 L679.00,455.13 L680.50,455.11 L682.00,455.08 L683.50,455.05 L685.00,455.02 L686.50,455.00 L688.00,454.97 L689.50,454.94 L691.00,454.92 L692.50,454.89 L694.00,454.87 L695.50,454.84 L697.00,454.82 L698.50,454.79 L700.00,454.77 L701.50,454.74 L703.00,454.72 L704.50,454.69 L706.00,454.67 L707.50,454.65 L709.00,454.62 L710.50,454.60 L712.00,454.58 L713.50,454.56 L715.00,454.53 L716.50,454.51 L718.00,454.49 L719.50,454.47 L721.00,454.44 L722.50,454.42 L724.00,454.40 L725.50,454.38 L727.00,454.36 L728.50,454.33 L730.00,454.31 L731.50,454.29 L733.00,454.27 L734.50,454.25 L736.00,454.23 L737.50,454.20 L739.00,454.18 L740.50,454.16 L742.00,454.14 L743.50,454.12 L745.00,454.10 L746.50,454.07 L748.00,454.05 L749.50,454.03 L751.00,454.01 L752.50,453.99 L754.00,453.96 L755.50,453.94 L757.00,453.92 L758.50,453.90 L760.00,453.87 L761.50,453.85 L763.00,453.83 L764.50,453.80 L766.00,453.78 L767.50,453.76 L769.00,453.73 L770.50,453.71 L772.00,453.68 L773.50,453.66 L775.00,453.63 L776.50,453.61 L778.00,453.58 L779.50,453.56 L781.00,453.53 L782.50,453.51 L784.00,453.48 L785.50,453.45 L787.00,453.43 L788.50,453.40 L790.00,453.37 L791.50,453.34 L793.00,453.32 L794.50,453.29 L796.00,453.26 L797.50,453.23 L799.00,453.20 L800.50,453.17 L802.00,453.14 L803.50,453.11 L805.00,453.07 L806.50,453.04 L808.00,453.01" stroke="#ff0000" stroke-width="2.15" fill="none" stroke-linejoin="round" stroke-linecap="round"/>
<path d="M88.00,457.48 L89.50,457.52 L91.00,457.56 L92.50,457.60 L94.00,457.65 L95.50,457.69 L97.00,457.74 L98.50,457.78 L100.00,457.83 L101.50,457.87 L103.00,457.92 L104.50,457.97 L106.00,458.02 L107.50,458.07 L109.00,458.12 L110.50,458.17 L112.00,458.22 L113.50,458.28 L115.00,458.33 L116.50,458.38 L118.00,458.44 L119.50,458.50 L121.00,458.55 L122.50,458.61 L124.00,458.67 L125.50,458.73 L127.00,458.79 L128.50,458.86 L130.00,458.92 L131.50,458.98 L133.00,459.05 L134.50,459.11 L136.00,459.18 L137.50,459.25 L139.00,459.32 L140.50,459.38 L142.00,459.46 L143.50,459.53 L145.00,459.60 L146.50,459.67 L148.00,459.75 L149.50,459.82 L151.00,459.90 L152.50,459.98 L154.00,460.06 L155.50,460.14 L157.00,460.22 L158.50,460.30 L160.00,460.38 L161.50,460.47 L163.00,460.55 L164.50,460.64 L166.00,460.72 L167.50,460.81 L169.00,460.90 L170.50,460.99 L172.00,461.08 L173.50,461.18 L175.00,461.27 L176.50,461.37 L178.00,461.46 L179.50,461.56 L181.00,461.66 L182.50,461.76 L184.00,461.86 L185.50,461.96 L187.00,462.07 L188.50,462.17 L190.00,462.28 L191.50,462.39 L193.00,462.49 L194.50,462.60 L196.00,462.72 L197.50,462.83 L199.00,462.94 L200.50,463.06 L202.00,463.17 L203.50,463.29 L205.00,463.41 L206.50,463.53 L208.00,463.65 L209.50,463.78 L211.00,463.90 L212.50,464.03 L214.00,464.15 L215.50,464.28 L217.00,464.41 L218.50,464.54 L220.00,464.68 L221.50,464.81 L223.00,464.94 L224.50,465.08 L226.00,465.22 L227.50,465.36 L229.00,465.50 L230.50,465.64 L232.00,465.79 L233.50,465.93 L235.00,466.08 L236.50,466.23 L238.00,466.38 L239.50,466.54 L241.00,466.69 L242.50,466.85 L244.00,467.01 L245.50,467.18 L247.00,467.35 L248.50,467.52 L250.00,467.69 L251.50,467.87 L253.00,468.05 L254.50,468.23 L256.00,468.42 L257.50,468.62 L259.00,468.81 L260.50,469.01 L262.00,469.22 L263.50,469.43 L265.00,469.65 L266.50,469.87 L268.00,470.09 L269.50,470.32 L271.00,470.56 L272.50,470.80 L274.00,471.05 L275.50,471.30 L277.00,471.56 L278.50,471.83 L280.00,472.10 L281.50,472.38 L283.00,472.66 L284.50,472.95 L286.00,473.25 L287.50,473.56 L289.00,473.87 L290.50,474.19 L292.00,474.52 L293.50,474.86 L295.00,475.20 L296.50,475.55 L298.00,475.91 L299.50,476.28 L301.00,476.65 L302.50,477.04 L304.00,477.43 L305.50,477.83 L307.00,478.25 L308.50,478.67 L310.00,479.10 L311.50,479.53 L313.00,479.98 L314.50,480.44 L316.00,480.91 L317.50,481.39 L319.00,481.88 L320.50,482.37 L322.00,482.88 L323.50,483.40 L325.00,483.93 L326.50,484.47 L328.00,485.02 L329.50,485.59 L331.00,486.16 L332.50,486.74 L334.00,487.34 L335.50,487.95 L337.00,488.57 L338.50,489.20 L340.00,489.84 L341.50,490.50 L343.00,491.17 L344.50,491.85 L346.00,492.54 L347.50,493.25 L349.00,493.97 L350.50,494.70 L352.00,495.44 L353.50,496.20 L355.00,496.97 L356.50,497.76 L358.00,498.56 L359.50,499.37 L361.00,500.19 L362.50,501.02 L364.00,501.85 L365.50,502.67 L367.00,503.46 L368.50,504.23 L370.00,504.96 L371.50,505.64 L373.00,506.27 L374.50,506.85 L376.00,507.37 L377.50,507.84 L379.00,508.24 L380.50,508.58 L382.00,508.86 L383.50,509.08 L385.00,509.22 L386.50,509.29 L388.00,509.28 L389.50,509.19 L391.00,509.00 L392.50,508.72 L394.00,508.33 L395.50,507.83 L397.00,507.22 L398.50,506.48 L400.00,505.62 L401.50,504.62 L403.00,503.49 L404.50,502.20 L406.00,500.77 L407.50,499.17 L409.00,497.41 L410.50,495.48 L412.00,493.38 L413.50,491.09 L415.00,488.61 L416.50,485.94 L418.00,483.07 L419.50,479.99 L421.00,476.69 L422.50,473.18 L424.00,469.44 L425.50,465.50 L427.00,461.37 L428.50,457.09 L430.00,452.69 L431.50,448.19 L433.00,443.62 L434.50,439.01 L436.00,434.39 L437.50,429.78 L439.00,425.22 L440.50,420.72 L442.00,416.33 L443.50,412.04 L445.00,407.86 L446.50,403.77 L448.00,399.77 L449.50,395.86 L451.00,392.06 L452.50,388.46 L454.00,385.17 L455.50,382.27 L457.00,379.87 L458.50,378.03 L460.00,376.76 L461.50,376.07 L463.00,375.93 L464.50,376.35 L466.00,377.33 L467.50,378.85 L469.00,380.88 L470.50,383.39 L472.00,386.36 L473.50,389.76 L475.00,393.56 L476.50,397.75 L478.00,402.30 L479.50,407.20 L481.00,412.40 L482.50,417.84 L484.00,423.40 L485.50,429.05 L487.00,434.74 L488.50,440.47 L490.00,446.22 L491.50,451.95 L493.00,457.62 L494.50,463.19 L496.00,468.63 L497.50,473.89 L499.00,478.94 L500.50,483.73 L502.00,488.24 L503.50,492.41 L505.00,496.24 L506.50,499.73 L508.00,502.89 L509.50,505.72 L511.00,508.23 L512.50,510.44 L514.00,512.35 L515.50,513.96 L517.00,515.28 L518.50,516.33 L520.00,517.11 L521.50,517.64 L523.00,517.93 L524.50,518.01 L526.00,517.90 L527.50,517.62 L529.00,517.18 L530.50,516.61 L532.00,515.92 L533.50,515.14 L535.00,514.29 L536.50,513.38 L538.00,512.44 L539.50,511.47 L541.00,510.49 L542.50,509.51 L544.00,508.51 L545.50,507.52 L547.00,506.53 L548.50,505.55 L550.00,504.57 L551.50,503.61 L553.00,502.65 L554.50,501.71 L556.00,500.77 L557.50,499.85 L559.00,498.94 L560.50,498.04 L562.00,497.15 L563.50,496.28 L565.00,495.43 L566.50,494.58 L568.00,493.76 L569.50,492.95 L571.00,492.15 L572.50,491.37 L574.00,490.61 L575.50,489.87 L577.00,489.15 L578.50,488.45 L580.00,487.76 L581.50,487.10 L583.00,486.45 L584.50,485.83 L586.00,485.23 L587.50,484.65 L589.00,484.10 L590.50,483.57 L592.00,483.06 L593.50,482.57 L595.00,482.10 L596.50,481.66 L598.00,481.22 L599.50,480.81 L601.00,480.41 L602.50,480.02 L604.00,479.64 L605.50,479.28 L607.00,478.92 L608.50,478.57 L610.00,478.23 L611.50,477.89 L613.00,477.55 L614.50,477.22 L616.00,476.90 L617.50,476.57 L619.00,476.26 L620.50,475.94 L622.00,475.63 L623.50,475.33 L625.00,475.03 L626.50,474.73 L628.00,474.44 L629.50,474.15 L631.00,473.87 L632.50,473.59 L634.00,473.31 L635.50,473.04 L637.00,472.77 L638.50,472.51 L640.00,472.25 L641.50,471.99 L643.00,471.74 L644.50,471.49 L646.00,471.24 L647.50,471.00 L649.00,470.76 L650.50,470.53 L652.00,470.30 L653.50,470.07 L655.00,469.84 L656.50,469.62 L658.00,469.41 L659.50,469.19 L661.00,468.98 L662.50,468.77 L664.00,468.57 L665.50,468.37 L667.00,468.17 L668.50,467.97 L670.00,467.78 L671.50,467.59 L673.00,467.41 L674.50,467.23 L676.00,467.05 L677.50,466.87 L679.00,466.70 L680.50,466.53 L682.00,466.36 L683.50,466.19 L685.00,466.03 L686.50,465.87 L688.00,465.71 L689.50,465.56 L691.00,465.41 L692.50,465.26 L694.00,465.11 L695.50,464.97 L697.00,464.82 L698.50,464.68 L700.00,464.55 L701.50,464.41 L703.00,464.28 L704.50,464.15 L706.00,464.02 L707.50,463.90 L709.00,463.77 L710.50,463.65 L712.00,463.53 L713.50,463.41 L715.00,463.30 L716.50,463.19 L718.00,463.07 L719.50,462.96 L721.00,462.86 L722.50,462.75 L724.00,462.65 L725.50,462.54 L727.00,462.44 L728.50,462.35 L730.00,462.25 L731.50,462.15 L733.00,462.06 L734.50,461.97 L736.00,461.88 L737.50,461.79 L739.00,461.70 L740.50,461.61 L742.00,461.53 L743.50,461.44 L745.00,461.36 L746.50,461.28 L748.00,461.20 L749.50,461.12 L751.00,461.04 L752.50,460.97 L754.00,460.89 L755.50,460.82 L757.00,460.74 L758.50,460.67 L760.00,460.60 L761.50,460.53 L763.00,460.46 L764.50,460.39 L766.00,460.32 L767.50,460.25 L769.00,460.19 L770.50,460.12 L772.00,460.06 L773.50,459.99 L775.00,459.93 L776.50,459.86 L778.00,459.80 L779.50,459.74 L781.00,459.67 L782.50,459.61 L784.00,459.55 L785.50,459.49 L787.00,459.43 L788.50,459.37 L790.00,459.31 L791.50,459.25 L793.00,459.19 L794.50,459.13 L796.00,459.07 L797.50,459.01 L799.00,458.95 L800.50,458.89 L802.00,458.83 L803.50,458.77 L805.00,458.71 L806.50,458.65 L808.00,458.59" stroke="#0000ff" stroke-width="2.0" fill="none" stroke-linejoin="round" stroke-linecap="round"/>
</g>
<rect x="92" y="310" width="710.8" height="222.5" fill="none" stroke="#000" stroke-width="1.75"/>
</svg></body></html>
